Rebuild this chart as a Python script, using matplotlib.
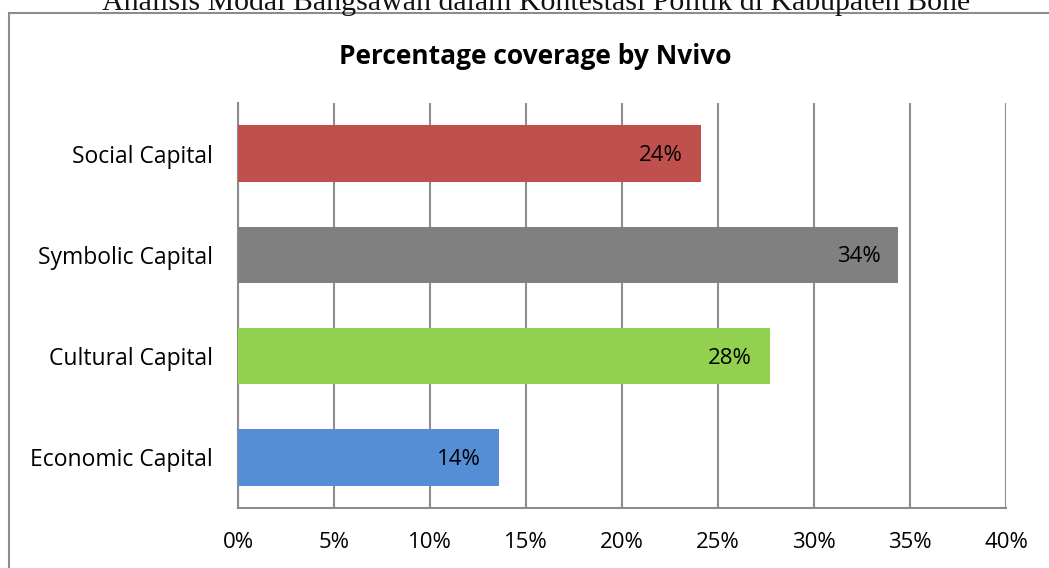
import matplotlib
matplotlib.use("Agg")
import matplotlib.pyplot as plt
from matplotlib.patches import Rectangle
from matplotlib.ticker import FuncFormatter, MultipleLocator

plt.rcParams['font.family'] = ['Open Sans', 'DejaVu Sans']

# Data (bottom to top as drawn)
categories = ["Economic Capital", "Cultural Capital", "Symbolic Capital", "Social Capital"]
coverage = [0.136, 0.277, 0.344, 0.241]
bar_colors = ["#558ED5", "#92D050", "#808080", "#C0504D"]
page_header = "Analisis Modal Bangsawan dalam Kontestasi Politik di Kabupaten Bone"
chart_title = "Percentage coverage by Nvivo"

W, H = 1049, 568
fig = plt.figure(figsize=(W / 100, H / 100), dpi=100)
fig.patch.set_facecolor("white")

# Running page header (cut by the top edge)
fig.text(536 / W, 1 - 10 / H, page_header, family="Liberation Serif",
         fontsize=21.5, ha="center", va="baseline", color="#111111")

# Chart frame
frame = Rectangle((9 / W, -0.1), 1.2, 1 - 13 / H + 0.1, transform=fig.transFigure,
                  fill=False, edgecolor="#8c8c8c", linewidth=1.5)
fig.patches.append(frame)

ax = fig.add_axes([238 / W, (H - 508) / H, (1006 - 238) / W, (508 - 103) / H])
ax.set_facecolor("white")

y = range(len(categories))
bars = ax.barh(y, coverage, height=0.56, color=bar_colors, zorder=3)

for bar, v in zip(bars, coverage):
    ax.annotate(f"{v:.0%}", xy=(bar.get_width(), bar.get_y() + bar.get_height() / 2),
                xytext=(-13, -1.5), textcoords="offset points",
                ha="right", va="center", fontsize=16, color="black", zorder=4)

ax.set_xlim(0, 0.40)
ax.set_ylim(-0.5, len(categories) - 0.5)
ax.xaxis.set_major_locator(MultipleLocator(0.05))
ax.xaxis.set_major_formatter(FuncFormatter(lambda v, p: f"{v:.0%}"))
ax.set_yticks(list(y))
ax.set_yticklabels(categories)

ax.grid(axis="x", color="#8c8c8c", linewidth=1.5, zorder=0)
ax.set_axisbelow(True)
for side in ["top", "right"]:
    ax.spines[side].set_visible(False)
for side in ["left", "bottom"]:
    ax.spines[side].set_color("#8c8c8c")
    ax.spines[side].set_linewidth(1.5)

ax.tick_params(axis="x", length=0, pad=17, labelsize=16)
ax.tick_params(axis="y", length=0, pad=18, labelsize=16.5)

fig.text(535 / W, 1 - 56 / H, chart_title, fontsize=19, fontweight="bold",
         ha="center", va="center")

fig.savefig("out.png", dpi=100)
